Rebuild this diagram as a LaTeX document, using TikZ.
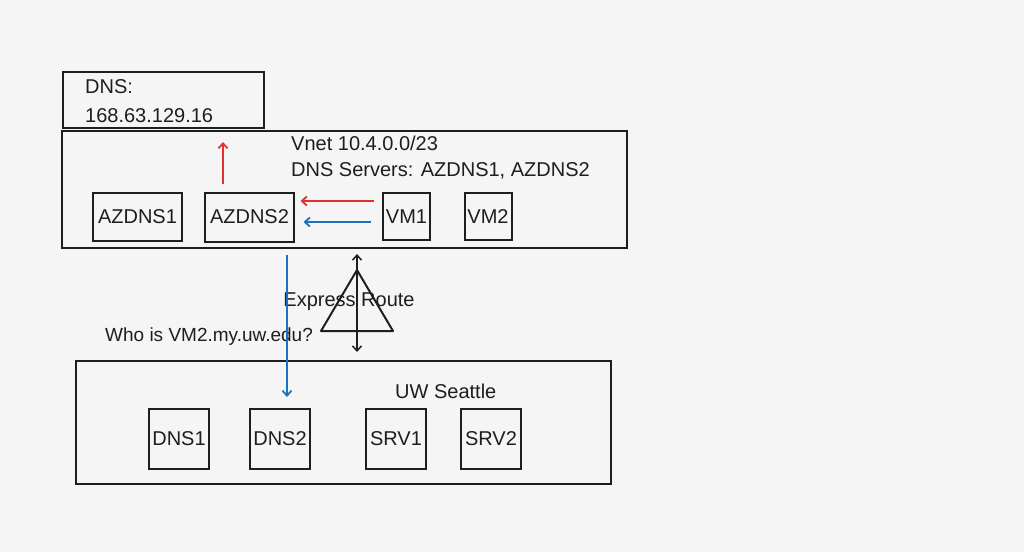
\documentclass[tikz,border=0pt]{standalone}
\usepackage{fontspec}
\setmainfont{Liberation Sans}
\usetikzlibrary{arrows.meta, calc, positioning}
\definecolor{bggray}{RGB}{245,245,245}
\definecolor{inkblack}{RGB}{30,30,30}
\definecolor{sketchred}{RGB}{224,49,49}
\definecolor{sketchblue}{RGB}{25,113,194}

\begin{document}
\begin{tikzpicture}[x=1pt, y=-1pt,
    box/.style={draw=inkblack, line width=2pt, inner sep=0pt, text=inkblack, font=\fontsize{20}{24}\selectfont},
    lbl/.style={inner sep=0pt, text=inkblack, font=\fontsize{20}{24}\selectfont},
    tip/.style={-{Straight Barb[length=5pt, width=9pt, line width=1.8pt]}},
    redarrow/.style={tip, sketchred, line width=2pt},
    bluearrow/.style={tip, sketchblue, line width=2pt}]
    \fill[bggray] (0,0) rectangle (1024,552);
    \useasboundingbox (0,0) rectangle (1024,552);

    % Public DNS and the Vnet
    \node[box, minimum width=201pt, minimum height=56pt] (dnsbox) at (163,100) {};
    \node[lbl, anchor=base west] (dnslbl) at (85,93) {DNS:};
    \node[lbl, anchor=base west] (dnsip) at (85,122) {168.63.129.16};
    \node[box, minimum width=565pt, minimum height=117pt] (vnet) at (344.5,189.5) {};
    \node[lbl, anchor=base west] (vnetlbl) at (291,150.5) {Vnet 10.4.0.0/23};
    \node[lbl, anchor=base west] (vnetdns) at (291,176.5) {DNS Servers: AZDNS1, AZDNS2};

    \node[box, minimum width=89pt, minimum height=48pt] (azdns1) at (137.5,216.5) {AZDNS1};
    \node[box, minimum width=89pt, minimum height=49pt] (azdns2) at (249.5,217) {AZDNS2};
    \foreach \nm/\cx/\txt in {vm1/406.5/VM1, vm2/488/VM2} {
        \node[box, minimum size=47pt] (\nm) at (\cx,216.5) {\txt};
    }

    % On-premises side
    \node[box, minimum width=535pt, minimum height=123pt] (uw) at (343.5,422) {};
    \node[lbl, anchor=base west] (uwlbl) at (395,398.5) {UW Seattle};
    \foreach \nm/\cx/\txt in {dns1/179/DNS1, dns2/280/DNS2, srv1/396/SRV1, srv2/491/SRV2} {
        \node[box, minimum size=60pt] (\nm) at (\cx,439) {\txt};
    }

    % Express Route link
    \draw[inkblack, line width=2pt, line join=round] (357,270) -- (393,331) -- (321,331) -- cycle;
    \coordinate (ertop) at (357,254);
    \coordinate (erbot) at (357,352);
    \draw[inkblack, line width=1.6pt, {Straight Barb[length=5pt, width=9pt, line width=1.5pt]}-{Straight Barb[length=5pt, width=9pt, line width=1.5pt]}] (ertop) -- (erbot);
    \node[lbl, anchor=base] (erlbl) at (349,306.5) {Express Route};
    \node[lbl, anchor=base west, font=\fontsize{19}{23}\selectfont] (query) at (105,341) {Who is VM2.my.uw.edu?};

    % Resolution path
    \coordinate (azure) at (223,142);
    \draw[redarrow, shorten <=8pt] (azure |- azdns2.north) -- (azure);
    \draw[redarrow, shorten <=8pt, shorten >=5.5pt] ([yshift=15.5pt]vm1.west) -- ([yshift=15.5pt]vm1.west -| azdns2.east);
    \draw[bluearrow, shorten <=11pt, shorten >=8.5pt] ([yshift=-5.5pt]vm1.west) -- ([yshift=-5.5pt]vm1.west -| azdns2.east);
    \coordinate (fwd) at (287,255);
    \draw[bluearrow, shorten >=11pt] (fwd) -- (fwd |- dns2.north);
\end{tikzpicture}
\end{document}
